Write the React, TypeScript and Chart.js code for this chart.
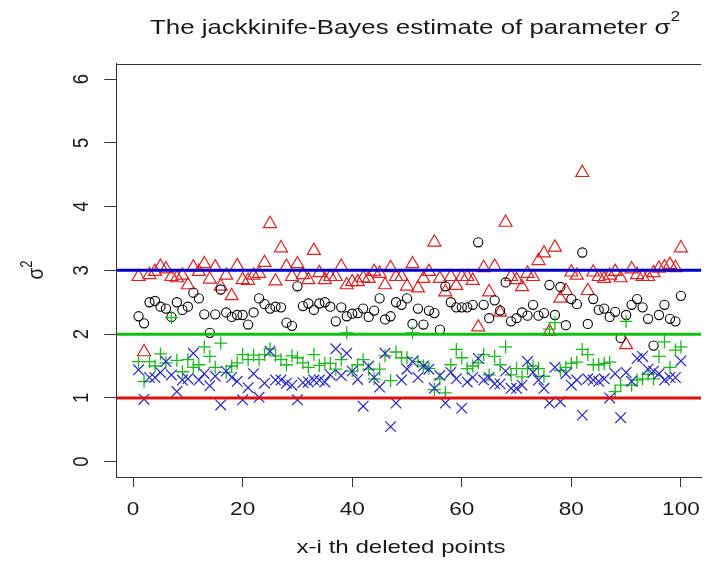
import React, { useEffect, useRef } from "react";
import { Chart, registerables } from "chart.js";

Chart.register(...registerables);

const FONT = "'Liberation Sans', Arial, sans-serif";

// x positions: index of the deleted point
const deletedPoint = Array.from({ length: 100 }, (_, i) => i + 1);

// red triangles
const redTriangles = [
  2.90, 1.72, 2.93, 2.98, 3.06, 3.02, 2.90, 2.88, 2.92, 2.77,
  3.05, 2.98, 3.10, 2.86, 3.05, 2.75, 2.92, 2.60, 3.07, 2.85,
  2.84, 2.92, 2.95, 3.12, 3.73, 2.83, 3.35, 3.06, 2.90, 3.10,
  2.93, 2.85, 3.31, 2.96, 2.85, 2.90, 2.90, 3.06, 2.77, 2.82,
  2.82, 2.88, 2.87, 2.98, 2.95, 2.77, 3.04, 2.90, 2.90, 2.75,
  3.10, 2.72, 2.87, 2.98, 3.44, 2.87, 2.66, 2.90, 2.76, 2.90,
  2.90, 2.84, 2.11, 3.04, 2.66, 3.06, 2.34, 3.75, 2.90, 2.85,
  2.74, 2.95, 2.90, 3.15, 3.27, 2.04, 3.36, 2.56, 2.68, 2.97,
  2.92, 4.53, 2.68, 2.97, 2.90, 2.87, 2.92, 2.98, 2.88, 1.83,
  3.02, 2.93, 2.90, 2.90, 2.96, 3.03, 3.05, 3.09, 3.04, 3.35,
];

// black circles
const blackCircles = [
  2.28, 2.17, 2.50, 2.52, 2.43, 2.40, 2.27, 2.50, 2.38, 2.43,
  2.65, 2.56, 2.31, 2.02, 2.31, 2.70, 2.34, 2.27, 2.30, 2.30,
  2.15, 2.34, 2.56, 2.47, 2.40, 2.43, 2.42, 2.18, 2.13, 2.75,
  2.44, 2.48, 2.38, 2.48, 2.50, 2.43, 2.20, 2.42, 2.28, 2.32,
  2.33, 2.40, 2.27, 2.37, 2.56, 2.23, 2.28, 2.50, 2.46, 2.56,
  2.16, 2.40, 2.15, 2.37, 2.33, 2.07, 2.75, 2.50, 2.42, 2.42,
  2.42, 2.46, 3.44, 2.46, 2.25, 2.53, 2.37, 2.81, 2.20, 2.25,
  2.34, 2.29, 2.46, 2.29, 2.33, 2.77, 2.30, 2.74, 2.14, 2.55,
  2.47, 3.28, 2.16, 2.55, 2.38, 2.40, 2.27, 2.35, 1.94, 2.30,
  2.46, 2.55, 2.42, 2.24, 1.82, 2.30, 2.46, 2.24, 2.20, 2.60,
];

// green plus signs
const greenPlus = [
  1.57, 1.26, 1.57, 1.50, 1.69, 1.55, 2.26, 1.59, 1.41, 1.60,
  1.48, 1.52, 1.80, 1.65, 1.48, 1.86, 1.40, 1.50, 1.55, 1.68,
  1.60, 1.67, 1.60, 1.68, 1.77, 1.66, 1.60, 1.52, 1.66, 1.63,
  1.55, 1.48, 1.68, 1.51, 1.54, 1.54, 1.45, 1.60, 2.02, 1.42,
  1.52, 1.60, 1.45, 1.30, 1.45, 1.66, 1.27, 1.72, 1.63, 1.63,
  2.02, 1.57, 1.50, 1.46, 1.13, 1.30, 1.08, 1.52, 1.76, 1.63,
  1.46, 1.50, 1.55, 1.68, 1.36, 1.65, 1.52, 1.80, 1.36, 1.46,
  1.33, 1.46, 1.50, 1.46, 1.34, 2.08, 2.18, 1.43, 1.48, 1.54,
  1.56, 1.76, 1.68, 1.52, 1.52, 1.54, 1.56, 1.10, 1.20, 2.20,
  1.20, 1.28, 1.30, 1.37, 1.30, 1.65, 1.88, 1.48, 1.75, 1.80,
];

// blue crosses
const blueCrosses = [
  1.44, 0.98, 1.32, 1.32, 1.40, 1.57, 1.36, 1.10, 1.28, 1.30,
  1.70, 1.28, 1.38, 1.19, 1.34, 0.89, 1.42, 1.32, 1.26, 0.97,
  1.16, 1.38, 1.01, 1.23, 1.73, 1.28, 1.28, 1.23, 1.20, 0.97,
  1.24, 1.25, 1.28, 1.28, 1.25, 1.36, 1.77, 1.35, 1.70, 1.42,
  1.29, 0.87, 1.50, 1.32, 1.17, 1.70, 0.55, 0.92, 1.28, 1.45,
  1.57, 1.32, 1.50, 1.45, 1.15, 1.35, 0.92, 1.40, 1.30, 0.84,
  1.25, 1.32, 1.62, 1.28, 1.32, 1.22, 1.22, 1.42, 1.15, 1.15,
  1.20, 1.57, 1.40, 1.28, 1.15, 0.92, 1.48, 0.94, 1.38, 1.20,
  1.28, 0.73, 1.30, 1.28, 1.26, 1.30, 1.00, 1.38, 0.69, 1.40,
  1.26, 1.62, 1.65, 1.45, 1.42, 1.38, 1.28, 1.32, 1.32, 1.58,
];

// reference lines (true values)
const refLineValues = [3, 2, 1];
const refLineColors = ["#0000C8", "#10C010", "#E01010"];

const xTickValues = [0, 20, 40, 60, 80, 100];
const yTickValues = [0, 1, 2, 3, 4, 5, 6];

const X_MIN = -2.97;
const X_MAX = 103.72;
const Y_MIN = -0.24;
const Y_MAX = 6.24;

type Part = { text: string; size: number; rise: number };

function measureParts(ctx: CanvasRenderingContext2D, parts: Part[]) {
  return parts.map((p) => {
    ctx.font = `${p.size}px ${FONT}`;
    return ctx.measureText(p.text).width;
  });
}

function drawRun(
  ctx: CanvasRenderingContext2D,
  parts: Part[],
  x: number,
  y: number,
  sx: number,
  rotated: boolean
) {
  ctx.save();
  const widths = measureParts(ctx, parts);
  const total = widths.reduce((a, b) => a + b, 0);
  ctx.translate(x, y);
  ctx.scale(sx, 1);
  if (rotated) ctx.rotate(-Math.PI / 2);
  ctx.textAlign = "left";
  ctx.textBaseline = "alphabetic";
  ctx.fillStyle = "#1a1a1a";
  let cur = -total / 2;
  parts.forEach((p, i) => {
    ctx.font = `${p.size}px ${FONT}`;
    ctx.fillText(p.text, cur, -p.rise);
    cur += widths[i];
  });
  ctx.restore();
}

function drawFitted(
  ctx: CanvasRenderingContext2D,
  parts: Part[],
  cx: number,
  baseline: number,
  targetWidth: number
) {
  const widths = measureParts(ctx, parts);
  const total = widths.reduce((a, b) => a + b, 0);
  drawRun(ctx, parts, cx, baseline, targetWidth / total, false);
}

const textPlugin = {
  id: "rText",
  afterDraw(chart: any) {
    const ctx: CanvasRenderingContext2D = chart.ctx;
    const area = chart.chartArea;
    const xs = chart.scales.x;
    const ys = chart.scales.y;
    ctx.save();
    // top edge of the plot box
    ctx.strokeStyle = "#333";
    ctx.lineWidth = 1;
    ctx.beginPath();
    const ty = Math.round(area.top) + 0.5;
    ctx.moveTo(area.left, ty);
    ctx.lineTo(area.right, ty);
    ctx.stroke();

    const tickStretch = 1.22;
    // x tick labels
    xs.ticks.forEach((t: any) => {
      const px = xs.getPixelForValue(t.value);
      drawRun(ctx, [{ text: String(t.value), size: 18.5, rise: 0 }], px, 515, tickStretch, false);
    });
    // y tick labels (rotated, R style)
    ys.ticks.forEach((t: any) => {
      const py = ys.getPixelForValue(t.value);
      drawRun(ctx, [{ text: String(t.value), size: 18.5, rise: 0 }], 88.3, py, tickStretch, true);
    });

    // main title
    drawFitted(
      ctx,
      [
        { text: "The jackkinife-Bayes estimate of parameter σ", size: 21, rise: 0 },
        { text: "2", size: 14, rise: 13 },
      ],
      415,
      33.5,
      530
    );
    // x axis title
    drawFitted(ctx, [{ text: "x-i th deleted points", size: 18.5, rise: 0 }], 401, 553, 209);
    // y axis title
    drawRun(
      ctx,
      [
        { text: "σ", size: 19, rise: 0 },
        { text: "2", size: 13, rise: 9 },
      ],
      43,
      270,
      1.2,
      true
    );
    ctx.restore();
  },
};

function pointsOf(values: number[]) {
  return deletedPoint.map((x, i) => ({ x, y: values[i] }));
}

export default function App() {
  const canvasRef = useRef<HTMLCanvasElement | null>(null);

  useEffect(() => {
    const canvas = canvasRef.current;
    if (!canvas) return;

    const lineSets = refLineValues.map((v, i) => ({
      type: "scatter" as const,
      data: [
        { x: X_MIN, y: v },
        { x: X_MAX, y: v },
      ],
      showLine: true,
      borderColor: refLineColors[i],
      backgroundColor: refLineColors[i],
      borderWidth: 3,
      pointRadius: 0,
      order: 0,
    }));

    const chart = new Chart(canvas, {
      type: "scatter",
      data: {
        datasets: [
          ...lineSets,
          {
            data: pointsOf(blueCrosses),
            pointStyle: "crossRot",
            pointRadius: 7.5,
            borderColor: "#2828C8",
            backgroundColor: "transparent",
            borderWidth: 1.2,
            order: 1,
          },
          {
            data: pointsOf(greenPlus),
            pointStyle: "cross",
            pointRadius: 6.5,
            borderColor: "#1DB81D",
            backgroundColor: "transparent",
            borderWidth: 1.3,
            order: 2,
          },
          {
            data: pointsOf(blackCircles),
            pointStyle: "circle",
            pointRadius: 4.6,
            borderColor: "#000000",
            backgroundColor: "transparent",
            borderWidth: 1.1,
            order: 3,
          },
          {
            data: pointsOf(redTriangles),
            pointStyle: "triangle",
            pointRadius: 7.5,
            borderColor: "#DD2222",
            backgroundColor: "transparent",
            borderWidth: 1.2,
            order: 4,
          },
        ] as any,
      },
      options: {
        animation: false,
        responsive: false,
        devicePixelRatio: 1,
        layout: { padding: { top: 63.7, left: 0, right: 0, bottom: 0 } },
        plugins: {
          legend: { display: false },
          tooltip: { enabled: false },
          title: { display: false },
        },
        scales: {
          x: {
            type: "linear",
            position: "bottom",
            min: X_MIN,
            max: X_MAX,
            afterBuildTicks: (s: any) => {
              s.ticks = xTickValues.map((v) => ({ value: v }));
            },
            afterFit: (s: any) => {
              s.height = 88;
            },
            ticks: { display: false },
            grid: {
              display: true,
              drawOnChartArea: false,
              drawTicks: true,
              tickLength: 10,
              color: "#333",
              lineWidth: 1,
            },
            border: { display: true, color: "#333", width: 1 },
          },
          y: {
            type: "linear",
            position: "left",
            min: Y_MIN,
            max: Y_MAX,
            afterBuildTicks: (s: any) => {
              s.ticks = yTickValues.map((v) => ({ value: v }));
            },
            afterFit: (s: any) => {
              s.width = 116.8;
            },
            ticks: { display: false },
            grid: {
              display: true,
              drawOnChartArea: false,
              drawTicks: true,
              tickLength: 12.5,
              color: "#333",
              lineWidth: 1,
            },
            border: { display: true, color: "#333", width: 1 },
          },
        },
      } as any,
      plugins: [textPlugin],
    });

    return () => chart.destroy();
  }, []);

  return (
    <div style={{ position: "fixed", left: 0, top: 0, width: 710, height: 565, background: "#fff" }}>
      <canvas ref={canvasRef} width={710} height={565} style={{ display: "block" }} />
    </div>
  );
}
